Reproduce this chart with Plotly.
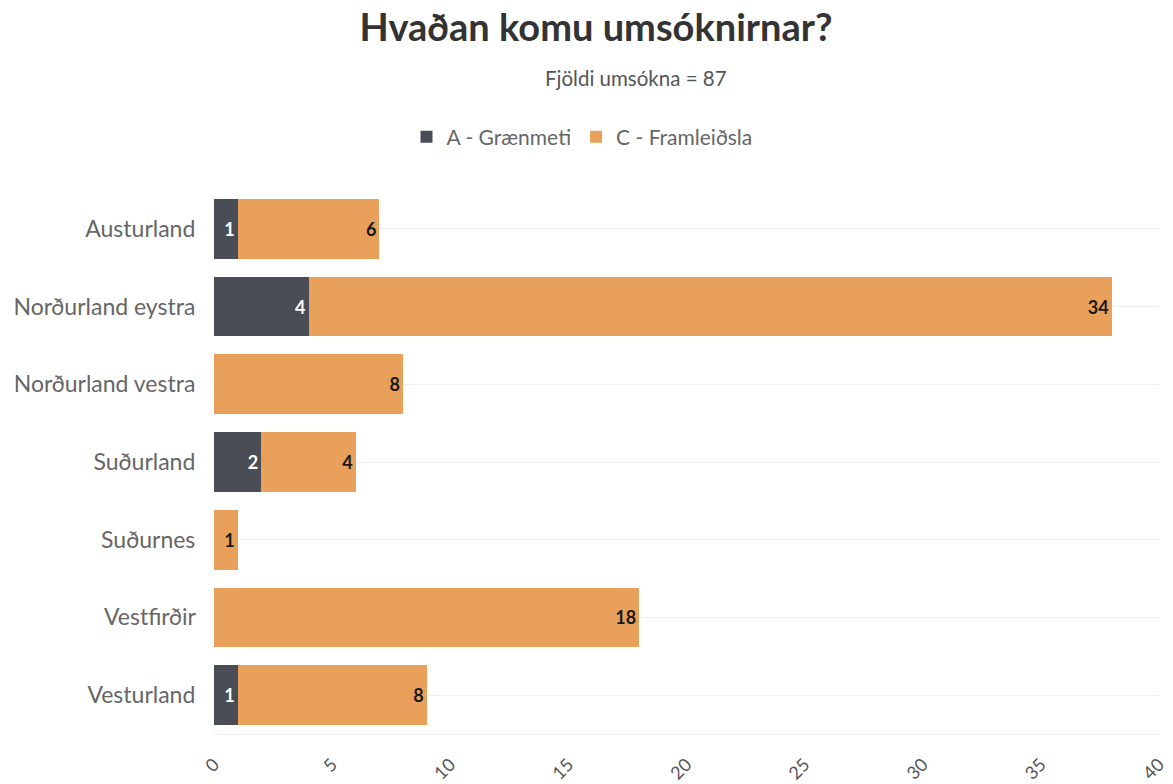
import plotly.graph_objects as go

regions = ["Austurland", "Norðurland eystra", "Norðurland vestra", "Suðurland",
           "Suðurnes", "Vestfirðir", "Vesturland"]
a_graenmeti = [1, 4, None, 2, None, None, 1]
c_framleidsla = [6, 34, 8, 4, 1, 18, 8]
x_ticks = [0, 5, 10, 15, 20, 25, 30, 35, 40]

FONT = "Lato"
W, H = 1173, 784
L, T = 214, 190
PLOT_W, PLOT_H = 945, 544

fig = go.Figure()
fig.add_trace(go.Bar(
    y=regions, x=a_graenmeti, orientation="h", name="A - Grænmeti",
    marker=dict(color="#4a4d55", line=dict(width=0)),
    texttemplate="<b>%{x}</b>", textposition="inside", insidetextanchor="end",
    textfont=dict(color="white", size=18, family=FONT),
    hoverinfo="x+y+name",
))
fig.add_trace(go.Bar(
    y=regions, x=c_framleidsla, orientation="h", name="C - Framleiðsla",
    marker=dict(color="#e9a05a", line=dict(width=0)),
    texttemplate="<b>%{x}</b>", textposition="inside", insidetextanchor="end",
    textfont=dict(color="#1a1a1a", size=18, family=FONT),
    hoverinfo="x+y+name",
))

fig.update_layout(
    barmode="stack",
    bargap=0.23,
    width=W, height=H,
    paper_bgcolor="white", plot_bgcolor="white",
    font=dict(family=FONT, color="#555555"),
    margin=dict(l=L, r=W - L - PLOT_W, t=T, b=H - T - PLOT_H, autoexpand=False),
    title=dict(text="<b>Hvaðan komu umsóknirnar?</b>", x=596 / W, xanchor="center",
               xref="container", y=1 - 28 / H, yanchor="middle", yref="container",
               font=dict(size=38, color="#333333", family=FONT)),
    legend=dict(orientation="h", x=(582 - L) / PLOT_W, xanchor="center",
                y=1 + (T - 137) / PLOT_H,
                yanchor="middle", font=dict(size=21, color="#666666", family=FONT),
                traceorder="normal"),
    uniformtext=dict(mode="show", minsize=10),
    annotations=[dict(text="Fjöldi umsókna = 87", xref="paper", yref="paper",
                      x=(636 - L) / PLOT_W, y=1 + (T - 78) / PLOT_H,
                      xanchor="center", yanchor="middle", showarrow=False,
                      font=dict(size=20.5, color="#555555", family=FONT))],
)
fig.update_xaxes(range=[0, 40], tickvals=x_ticks, tickangle=-45, showgrid=False,
                 zeroline=False, showline=True, linecolor="#eeeeee", automargin=False,
                 tickfont=dict(size=18, color="#555555", family=FONT), ticks="",
                 ticklabelstandoff=12)
fig.update_yaxes(autorange="reversed", showgrid=True, gridcolor="#eeeeee", automargin=False,
                 tickfont=dict(size=23, color="#666666", family=FONT), ticks="",
                 ticksuffix="   ")

fig.write_html("out.html", config={"displayModeBar": False},
               post_script="document.body.style.margin='0';")
